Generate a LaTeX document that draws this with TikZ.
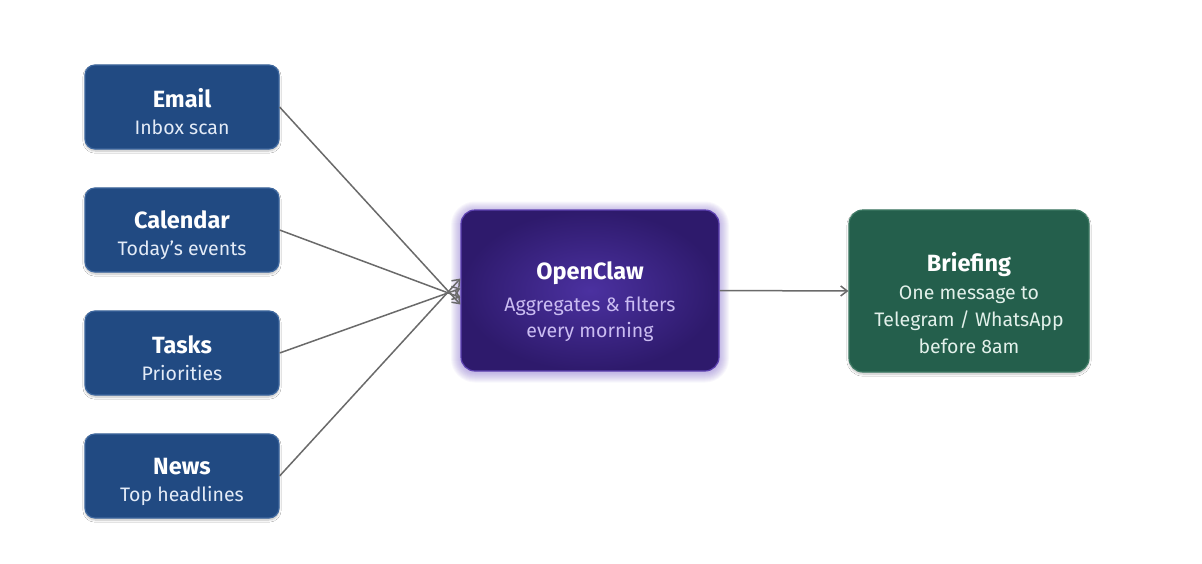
\documentclass[tikz,border=0pt]{standalone}
\usepackage{fontspec}
\setmainfont{Fira Sans}
\usetikzlibrary{shadows.blur,arrows.meta}
\definecolor{srcblue}{HTML}{214A82}
\definecolor{srcborder}{HTML}{3D679F}
\definecolor{subblue}{HTML}{E3EBF7}
\definecolor{purpin}{HTML}{4B31A0}
\definecolor{purpout}{HTML}{2E1A6C}
\definecolor{purpborder}{HTML}{6A4CC4}
\definecolor{lav}{HTML}{CBBDF2}
\definecolor{grn}{HTML}{245F4C}
\definecolor{grnborder}{HTML}{3D7A64}
\definecolor{subgrn}{HTML}{E2F0EA}
\definecolor{arr}{HTML}{6A6A6A}
\tikzset{
  srcbox/.style={draw=srcborder, line width=1.2pt, fill=srcblue, rounded corners=10pt,
    minimum width=194pt, minimum height=84pt, align=center, text=white,
    font=\fontsize{19.5}{27}\selectfont,
    blur shadow={shadow xshift=0pt, shadow yshift=-2pt, shadow blur steps=8, shadow opacity=25}},
  hubbox/.style={draw=purpborder!80!purpout, line width=1.2pt, inner color=purpin, outer color=purpout, rounded corners=14pt,
    minimum width=258pt, minimum height=161pt, align=center, text=white,
    font=\fontsize{19.5}{26}\selectfont},
  outbox/.style={draw=grnborder, line width=1.2pt, fill=grn, rounded corners=14pt,
    minimum width=240pt, minimum height=162pt, align=center, text=white,
    font=\fontsize{19.5}{27}\selectfont,
    blur shadow={shadow xshift=0pt, shadow yshift=-2pt, shadow blur steps=8, shadow opacity=25}},
  glowring/.style={fill=purpborder, opacity=0.045},
  flow/.style={draw=arr, line width=1.5pt, -{Straight Barb[length=6.5pt,width=10pt]}},
}
\newcommand{\boxtitle}[2]{{\fontsize{23.5}{27}\selectfont\bfseries\rule{0pt}{#1}#2}}
\begin{document}
\begin{tikzpicture}[x=1pt,y=-1pt]
\useasboundingbox[fill=white] (0,0) rectangle (1202,563);
% purple glow around the hub
\foreach \g in {1,...,10}{
  \fill[glowring, rounded corners=14pt+\g pt]
    (461-\g, 210-\g+1.5) rectangle (719+\g, 371+\g+1.5);
}
\node[srcbox] (email) at (182,107) {\boxtitle{28pt}{Email}\\[0pt]\color{subblue}Inbox scan};
\node[srcbox] (cal) at (182,230) {\boxtitle{28pt}{Calendar}\\[0pt]\color{subblue}Today’s events};
\node[srcbox] (tasks) at (182,353) {\boxtitle{28pt}{Tasks}\\[0pt]\color{subblue}Priorities};
\node[srcbox] (news) at (182,476) {\boxtitle{28pt}{News}\\[0pt]\color{subblue}Top headlines};
\node[hubbox] (hub) at (590,290.5) {\boxtitle{40pt}{OpenClaw}\\[6pt]{\color{lav}Aggregates \& filters}\\{\color{lav}every morning}};
\node[outbox] (brief) at (969,291) {\boxtitle{43pt}{Briefing}\\[1pt]{\color{subgrn}One message to}\\{\color{subgrn}Telegram / WhatsApp}\\{\color{subgrn}before 8am}};
\coordinate (e1) at ([yshift=-14pt]hub.west);
\coordinate (e2) at ([yshift=-7pt]hub.west);
\coordinate (e3) at ([yshift=2pt]hub.west);
\coordinate (e4) at ([yshift=12pt]hub.west);
\draw[flow] (email.east) -- (e1);
\draw[flow] (cal.east) -- (e2);
\draw[flow] (tasks.east) -- (e3);
\draw[flow] (news.east) -- (e4);
\draw[flow] (hub.east) -- (brief.west);
\end{tikzpicture}
\end{document}
